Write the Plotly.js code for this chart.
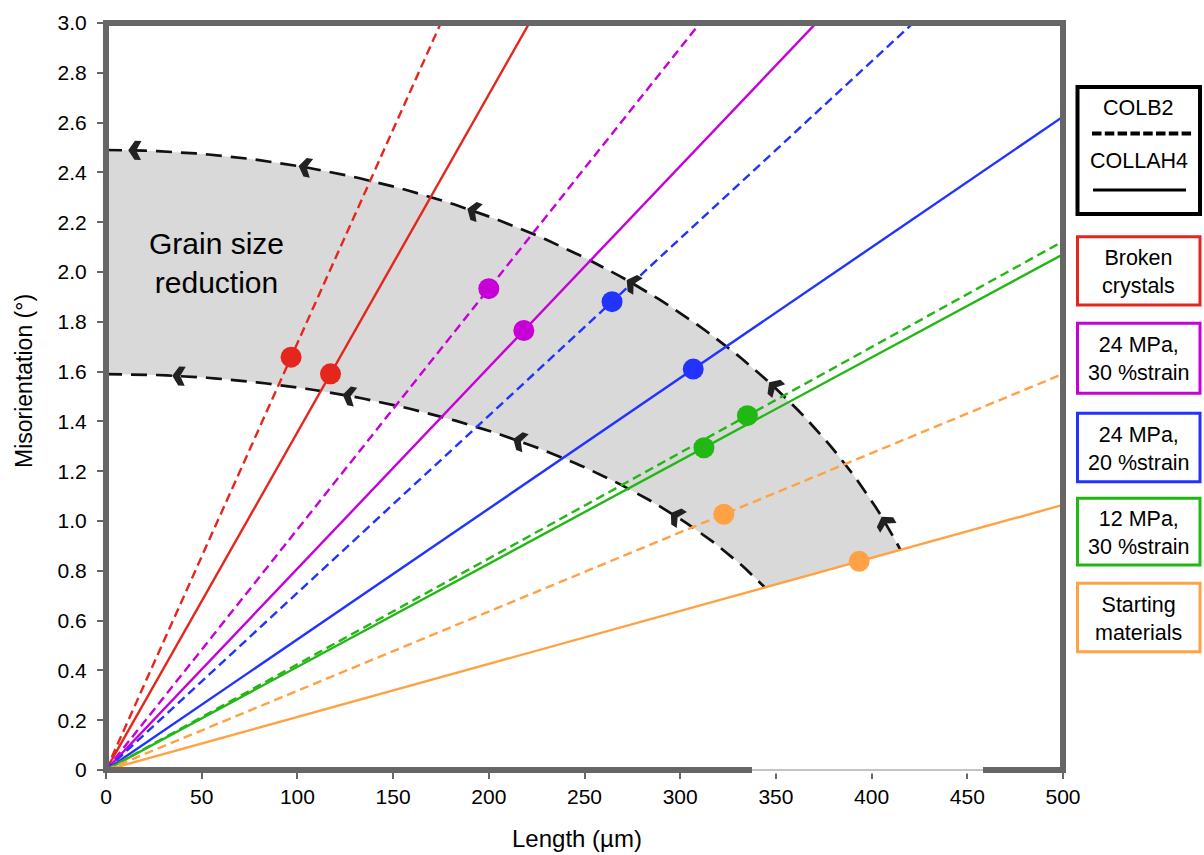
<!DOCTYPE html>
<html>
<head>
<meta charset="utf-8">
<script src="https://cdn.plot.ly/plotly-3.0.1.min.js"></script>
<style>
  body { margin: 0; background: #fff; }
  #chart { width: 1204px; height: 855px; }
</style>
</head>
<body>
<div id="chart"></div>
<script>
// ---- data -------------------------------------------------------------
const groups = ['Broken<br>crystals', '24 MPa,<br>30 %strain', '24 MPa,<br>20 %strain',
                '12 MPa,<br>30 %strain', 'Starting<br>materials'];

// COLB2 (dashed) and COLLAH4 (solid): mean length and misorientation per group
const colb2Length = [96.7, 200.0, 264.4, 335.1, 322.8];
const colb2Misorientation = [1.658, 1.933, 1.881, 1.423, 1.027];
const collah4Length = [117.3, 218.3, 306.8, 312.4, 393.5];
const collah4Misorientation = [1.591, 1.765, 1.610, 1.294, 0.838];

const xTickValues = [0, 50, 100, 150, 200, 250, 300, 350, 400, 450, 500];
const yTickValues = [0, 0.2, 0.4, 0.6, 0.8, 1.0, 1.2, 1.4, 1.6, 1.8, 2.0, 2.2, 2.4, 2.6, 2.8, 3.0];
const yTickLabels = ['0', '0.2', '0.4', '0.6', '0.8', '1.0', '1.2', '1.4', '1.6', '1.8',
                     '2.0', '2.2', '2.4', '2.6', '2.8', '3.0'];

// grain-size-reduction band: elliptical bounds [length semi-axis, misorientation semi-axis]
const outerBound = [444, 2.49];
const innerBound = [388, 1.59];
// positions (length) of the direction chevrons on each bound
const outerChevronLength = [15, 104, 192, 275, 349, 407];
const innerChevronLength = [38, 127, 216, 298];

// ---- styling ----------------------------------------------------------
const groupColors = ['#E4261C', '#C800D8', '#2233FF', '#22B814', '#FFA245'];
const FONT = 'Liberation Sans, Arial, sans-serif';
const W = 1204, H = 855;
const M = { l: 106, r: 141, t: 23, b: 85 };
const plotW = W - M.l - M.r, plotH = H - M.t - M.b;
const X_MAX = 500, Y_MAX = 3.0;
const pxPerX = plotW / X_MAX, pxPerY = plotH / Y_MAX;
const paperX = px => (px - M.l) / plotW;
const paperY = py => (H - M.b - py) / plotH;

// ---- band geometry ----------------------------------------------------
const startSlope = collah4Misorientation[4] / collah4Length[4];
function arcPoints(bound) {
  const [a, b] = bound;
  const tEnd = Math.atan(b / (startSlope * a));   // meets the starting-material line
  const xs = [], ys = [];
  const n = 80;
  for (let i = 0; i <= n; i++) {
    const t = tEnd * i / n;
    xs.push(a * Math.sin(t));
    ys.push(b * Math.cos(t));
  }
  return { xs, ys };
}
const outerArc = arcPoints(outerBound);
const innerArc = arcPoints(innerBound);

const traces = [];
traces.push({
  x: outerArc.xs.concat(innerArc.xs.slice().reverse()),
  y: outerArc.ys.concat(innerArc.ys.slice().reverse()),
  mode: 'lines', fill: 'toself', fillcolor: '#D9D9D9',
  line: { width: 0, color: 'rgba(0,0,0,0)' }, hoverinfo: 'skip', showlegend: false
});
[outerArc, innerArc].forEach(arc => traces.push({
  x: arc.xs, y: arc.ys, mode: 'lines',
  line: { color: '#111', width: 2.7, dash: '16px,9px' },
  hoverinfo: 'skip', showlegend: false
}));

// ---- trend lines through the origin -----------------------------------
groups.forEach((g, i) => {
  const s2 = colb2Misorientation[i] / colb2Length[i];
  const s4 = collah4Misorientation[i] / collah4Length[i];
  traces.push({
    x: [0, X_MAX], y: [0, s2 * X_MAX], mode: 'lines',
    line: { color: groupColors[i], width: 2.4, dash: '9px,5px' }, showlegend: false
  });
  traces.push({
    x: [0, X_MAX], y: [0, s4 * X_MAX], mode: 'lines',
    line: { color: groupColors[i], width: 2.4 }, showlegend: false
  });
});
groups.forEach((g, i) => {
  traces.push({
    x: [colb2Length[i], collah4Length[i]],
    y: [colb2Misorientation[i], collah4Misorientation[i]],
    mode: 'markers', marker: { size: 21, color: groupColors[i] }, showlegend: false
  });
});

// ---- shapes -----------------------------------------------------------
const shapes = [];
// chevrons along the bounds, pointing towards decreasing length
function chevron(bound, xv) {
  const [a, b] = bound;
  const r = Math.sqrt(1 - (xv / a) ** 2);
  const yv = b * r;
  const slope = -b * xv / (a * a * r);
  const phi = Math.atan2(slope * pxPerY, pxPerX);
  const c = Math.cos(phi), s = Math.sin(phi);
  const pts = [[-6.5, 0], [0, 9.5], [6.5, 9.5], [1.5, 0], [6.5, -9.5], [0, -9.5]];
  const path = pts.map((p, k) => (k ? 'L' : 'M') +
      (p[0] * c - p[1] * s).toFixed(2) + ',' + (p[0] * s + p[1] * c).toFixed(2)).join(' ') + ' Z';
  return {
    type: 'path', xref: 'x', yref: 'y', xsizemode: 'pixel', ysizemode: 'pixel',
    xanchor: xv, yanchor: yv, path, fillcolor: '#222', line: { width: 0 }, layer: 'above'
  };
}
outerChevronLength.forEach(v => shapes.push(chevron(outerBound, v)));
innerChevronLength.forEach(v => shapes.push(chevron(innerBound, v)));

// plot frame
shapes.push({ type: 'rect', xref: 'paper', yref: 'paper', x0: 0, x1: 1, y0: 0, y1: 1,
  line: { color: '#666', width: 6 }, layer: 'above' });
shapes.push({ type: 'line', xref: 'paper', yref: 'paper', x0: paperX(752), x1: paperX(983),
  y0: 0, y1: 0, line: { color: '#fff', width: 7 }, layer: 'above' });
shapes.push({ type: 'line', xref: 'paper', yref: 'paper', x0: paperX(752), x1: paperX(983),
  y0: 0, y1: 0, line: { color: '#C4C4C4', width: 2 }, layer: 'above' });

// key boxes
const boxLeft = 1077.5, boxRight = 1200;
shapes.push({ type: 'rect', xref: 'paper', yref: 'paper',
  x0: paperX(boxLeft), x1: paperX(boxRight), y0: paperY(214), y1: paperY(87),
  line: { color: '#000', width: 4 } });
shapes.push({ type: 'line', xref: 'paper', yref: 'paper',
  x0: paperX(1092), x1: paperX(1192), y0: paperY(133.5), y1: paperY(133.5),
  line: { color: '#000', width: 4, dash: '9.5px,3.3px' } });
shapes.push({ type: 'line', xref: 'paper', yref: 'paper',
  x0: paperX(1093), x1: paperX(1186), y0: paperY(190), y1: paperY(190),
  line: { color: '#000', width: 3 } });
const boxTops = [236.7, 323.3, 413.3, 498.3, 583.3];
const boxBottoms = [305, 393.3, 481.7, 565, 651.7];
groups.forEach((g, i) => shapes.push({ type: 'rect', xref: 'paper', yref: 'paper',
  x0: paperX(boxLeft), x1: paperX(boxRight), y0: paperY(boxBottoms[i]), y1: paperY(boxTops[i]),
  line: { color: groupColors[i], width: 3 } }));

// ---- annotations ------------------------------------------------------
const annotations = [];
const note = (px, py, text, size, extra) => annotations.push(Object.assign({
  xref: 'paper', yref: 'paper', x: paperX(px), y: paperY(py), text,
  xanchor: 'center', yanchor: 'middle', showarrow: false,
  font: { family: FONT, size, color: '#000' }
}, extra || {}));
const boxCenter = (boxLeft + boxRight) / 2;
note(boxCenter, 108, 'COLB2', 21.5);
note(boxCenter, 161, 'COLLAH4', 21.5);
groups.forEach((g, i) => note(boxCenter, (boxTops[i] + boxBottoms[i]) / 2 + 1, g, 21.5));
note(216, 263, 'Grain size<br>reduction', 30);
note(576.5, 838, 'Length (µm)', 24);
note(24, 381, 'Misorientation (°)', 23, { textangle: -90 });

const axisCommon = {
  showgrid: false, zeroline: false, showline: false, fixedrange: true,
  ticks: 'outside', ticklen: 8, tickwidth: 2, tickcolor: '#666',
  tickfont: { family: FONT, size: 21, color: '#000' }
};
const layout = {
  width: W, height: H, margin: M,
  paper_bgcolor: '#fff', plot_bgcolor: '#fff', showlegend: false,
  xaxis: Object.assign({}, axisCommon, { range: [0, X_MAX], tickvals: xTickValues }),
  yaxis: Object.assign({}, axisCommon, { range: [0, Y_MAX], tickvals: yTickValues,
    ticktext: yTickLabels, ticklabelstandoff: 6 }),
  shapes, annotations
};
Plotly.newPlot('chart', traces, layout, { staticPlot: true });
</script>
</body>
</html>
